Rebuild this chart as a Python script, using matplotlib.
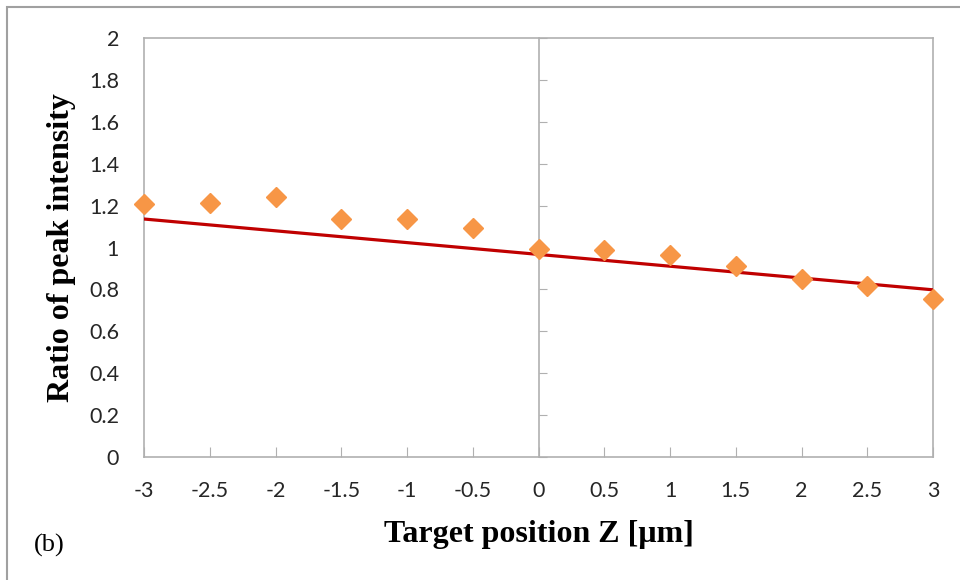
import matplotlib
matplotlib.use("Agg")
import matplotlib.pyplot as plt
from matplotlib.patches import Rectangle

# Data
z_pos = [-3, -2.5, -2, -1.5, -1, -0.5, 0, 0.5, 1, 1.5, 2, 2.5, 3]
ratio = [1.207, 1.212, 1.243, 1.136, 1.136, 1.095, 0.995, 0.99, 0.962, 0.911, 0.848, 0.817, 0.754]
trend_x = [-3, 3]
trend_y = [1.136, 0.798]
x_ticks = [-3, -2.5, -2, -1.5, -1, -0.5, 0, 0.5, 1, 1.5, 2, 2.5, 3]
x_tick_labels = ["-3", "-2.5", "-2", "-1.5", "-1", "-0.5", "0", "0.5", "1", "1.5", "2", "2.5", "3"]
y_ticks = [0, 0.2, 0.4, 0.6, 0.8, 1, 1.2, 1.4, 1.6, 1.8, 2]
y_tick_labels = ["0", "0.2", "0.4", "0.6", "0.8", "1", "1.2", "1.4", "1.6", "1.8", "2"]

W, H = 960, 580
fig = plt.figure(figsize=(9.6, 5.8), dpi=100)
fig.patch.set_facecolor("white")

# outer frame (only top and left visible)
fig.add_artist(Rectangle((7 / W, -0.2), 1.2, (H - 7) / H + 0.2, transform=fig.transFigure,
                         fill=False, edgecolor="#A0A0A0", linewidth=1.5))

left, right = 144 / W, 933 / W
bottom, top = (H - 457) / H, (H - 38) / H
ax = fig.add_axes([left, bottom, right - left, top - bottom])

grey = "#B0B0B0"
tick_font = "Lato"
tick_size = 15.5

ax.plot(trend_x, trend_y, color="#C00000", linewidth=2.3, zorder=3)
ax.plot(z_pos, ratio, linestyle="none", marker="D", markersize=10,
        markerfacecolor="#F79646", markeredgecolor="#F79646", zorder=4, clip_on=False)

ax.set_xlim(-3, 3)
ax.set_ylim(0, 2)

# left spine moved to x=0 (the y axis), ticks pointing right, no labels
ax.spines["left"].set_position(("data", 0))
for s in ["left", "bottom", "top", "right"]:
    ax.spines[s].set_color(grey)
    ax.spines[s].set_linewidth(1.2)
ax.set_yticks(y_ticks)
ax.tick_params(axis="y", direction="in", length=6, color=grey, labelleft=False)
ax.set_xticks(x_ticks)
ax.set_xticklabels(x_tick_labels, fontfamily=tick_font, fontsize=tick_size, color="#262626")
ax.tick_params(axis="x", direction="in", length=7, color=grey, pad=17)

# secondary axis on the left edge carrying the tick labels
sec = ax.secondary_yaxis("left")
sec.set_yticks(y_ticks)
sec.set_yticklabels(y_tick_labels, fontfamily=tick_font, fontsize=tick_size, color="#262626")
sec.tick_params(axis="y", length=0, pad=18)
sec.spines["left"].set_color(grey)
sec.spines["left"].set_linewidth(1.2)

ax.set_xlabel("Target position Z [μm]", fontfamily="Liberation Serif", fontweight="bold",
              fontsize=23, labelpad=14)
fig.text(62 / W, 1 - 248 / H, "Ratio of peak intensity", rotation=90, ha="center", va="center",
         fontfamily="Liberation Serif", fontweight="bold", fontsize=23)
fig.text(34 / W, 1 - 545 / H, "(b)", ha="left", va="center",
         fontfamily="Liberation Serif", fontsize=19)

fig.savefig("out.png", dpi=100, facecolor="white")
